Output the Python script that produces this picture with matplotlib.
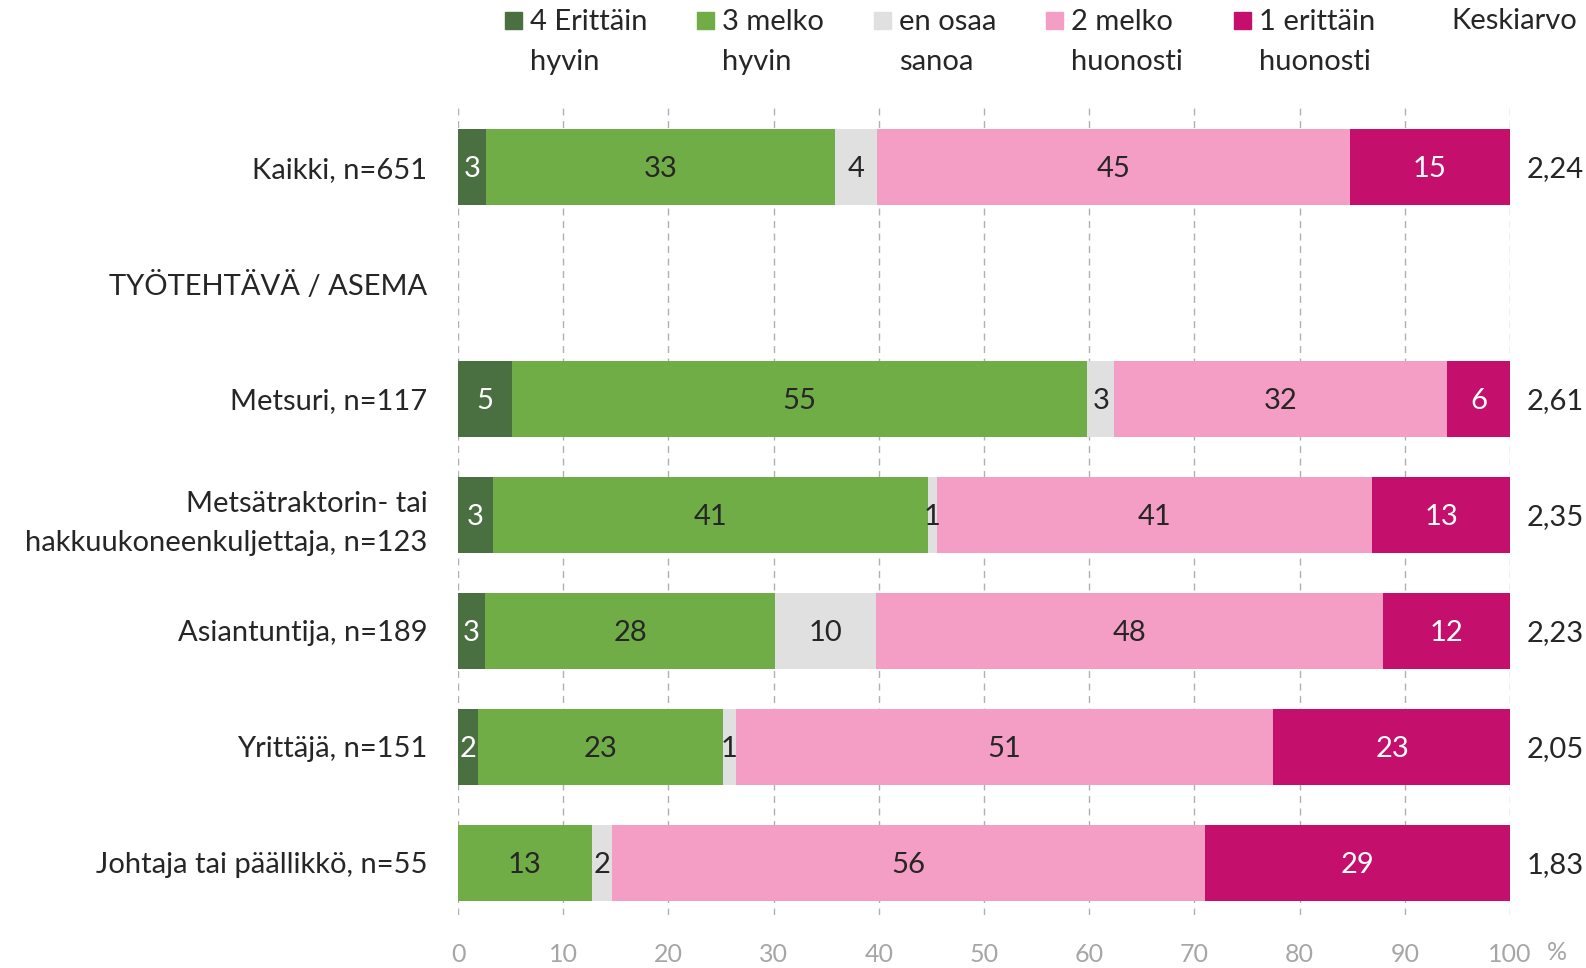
import matplotlib.pyplot as plt
import numpy as np

plt.rcParams['font.family'] = ['Lato', 'DejaVu Sans']

categories = ['Kaikki, n=651', 'TYÖTEHTÄVÄ / ASEMA', 'Metsuri, n=117',
              'Metsätraktorin- tai\nhakkuukoneenkuljettaja, n=123',
              'Asiantuntija, n=189', 'Yrittäjä, n=151', 'Johtaja tai päällikkö, n=55']
series_names = ['4 Erittäin\nhyvin', '3 melko\nhyvin', 'en osaa\nsanoa',
                '2 melko\nhuonosti', '1 erittäin\nhuonosti']
# percentages per row (None = heading row without bar)
very_good = [2.7, None, 5.1, 3.3, 2.6, 1.9, 0.0]
fairly_good = [33.1, None, 54.7, 41.4, 27.5, 23.3, 12.7]
dont_know = [4.0, None, 2.6, 0.8, 9.6, 1.2, 1.9]
fairly_bad = [45.0, None, 31.6, 41.4, 48.2, 51.1, 56.4]
very_bad = [15.2, None, 6.0, 13.1, 12.1, 22.6, 29.0]
means = ['2,24', '', '2,61', '2,35', '2,23', '2,05', '1,83']

colors = ['#4a6f41', '#70ad47', '#e0e0e0', '#f49ec6', '#c4106c']
text_colors = ['white', '#262626', '#262626', '#262626', 'white']

fig = plt.figure(figsize=(15.86, 9.68), dpi=100)
ax = fig.add_axes([458 / 1586, 1 - 915 / 968, 1052 / 1586, 807 / 968])

series = [very_good, fairly_good, dont_know, fairly_bad, very_bad]
y = np.arange(len(categories))
for i, row in enumerate(y):
    if very_good[i] is None:
        continue
    left = 0
    for s, col, tc in zip(series, colors, text_colors):
        v = s[i]
        if v > 0:
            ax.barh(row, v, left=left, height=0.655, color=col, zorder=3)
            ax.text(left + v / 2, row + 0.02, f'{round(v)}', ha='center', va='center',
                    color=tc, fontsize=21, zorder=4)
        left += v
    ax.text(101.6, row + 0.02, means[i], ha='left', va='center', fontsize=21, color='#262626')

ax.set_xlim(0, 100)
ax.set_ylim(6.45, -0.51)
ax.set_xticks(range(0, 101, 10))
ax.set_yticks(y)
ax.set_yticklabels(categories, fontsize=21, color='#262626', linespacing=1.6)
ax.tick_params(axis='y', length=0, pad=22)
ax.tick_params(axis='x', length=0, pad=20, labelsize=18, labelcolor='#a6a6a6')
ax.xaxis.grid(True, color='#b0b0b0', linestyle=(0, (5, 4)), linewidth=1, zorder=0)
for sp in ax.spines.values():
    sp.set_visible(False)
ax.text(1.045, -0.047, '%', transform=ax.transAxes, ha='center', va='center',
        fontsize=18, color='#a6a6a6')

# legend on top
sq_x = [505, 697, 874, 1046, 1234]
for x0, name, col in zip(sq_x, series_names, colors):
    fig.patches.append(plt.Rectangle((x0 / 1586, 1 - 29 / 968), 17 / 1586, 17 / 968,
                                     transform=fig.transFigure, color=col))
    fig.text((x0 + 25) / 1586, 1 - 42 / 968, name, ha='left', va='center',
             fontsize=21, color='#262626', linespacing=1.65)
fig.text(1451 / 1586, 1 - 21 / 968, 'Keskiarvo', ha='left', va='center',
         fontsize=21, color='#262626')

fig.savefig('out.png', dpi=100)
